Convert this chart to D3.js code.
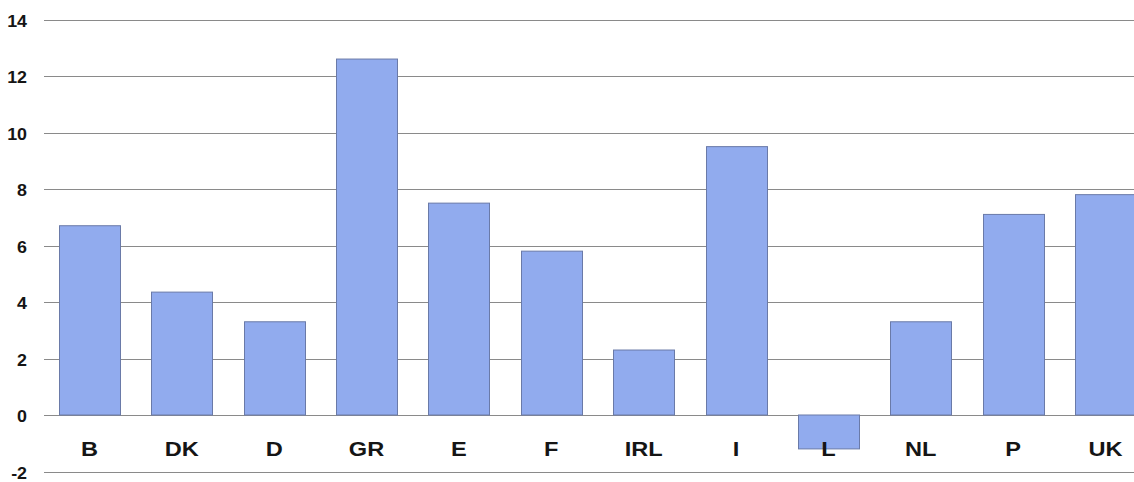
<!DOCTYPE html>
<html><head><meta charset="utf-8">
<script src="https://cdnjs.cloudflare.com/ajax/libs/d3/7.8.5/d3.min.js"></script>
<style>body{margin:0;background:#fff}svg{display:block}</style>
</head><body>
<svg id="c" width="1134" height="482"></svg>
<script>
const categories = ["B","DK","D","GR","E","F","IRL","I","L","NL","P","UK"];
const values = [6.7,4.35,3.3,12.6,7.5,5.8,2.3,9.5,-1.2,3.3,7.1,7.8];
const tickValues = [-2,0,2,4,6,8,10,12,14];

const svg = d3.select("#c");
const y = d3.scaleLinear().domain([-2,14]).range([471.5,19.5]);
const x = d3.scaleBand().domain(categories).range([43.3,1151.6]).paddingInner(0.34).paddingOuter(0.17);

// gridlines
svg.append("g").selectAll("line").data(tickValues).join("line")
  .attr("x1",44).attr("x2",1134)
  .attr("y1",d=>Math.round(y(d))+0.5).attr("y2",d=>Math.round(y(d))+0.5)
  .attr("stroke","#8a8a8a").attr("stroke-width",1.2);

// y axis labels
const yAxis = d3.axisLeft(y).tickValues(tickValues).tickSize(0).tickPadding(0).tickFormat(d=>String(d));
const ga = svg.append("g").attr("transform","translate(27,1.5)").call(yAxis);
ga.select(".domain").remove();
ga.selectAll("text").attr("font-family","Liberation Sans, Arial, sans-serif")
  .attr("font-weight","bold").attr("font-size",17).attr("fill","#151515")
  .attr("transform","scale(1.05,1)");

// bars
svg.append("g").selectAll("rect").data(values).join("rect")
  .attr("x",(d,i)=>Math.round(x(categories[i]))+0.5)
  .attr("width",Math.round(x.bandwidth()))
  .attr("y",d=>y(Math.max(0,d)))
  .attr("height",d=>Math.abs(y(d)-y(0)))
  .attr("fill","#91abee").attr("stroke","#6a7aa8").attr("stroke-width",1);

// category labels
const xAxis = d3.axisBottom(x).tickSize(0).tickPadding(0);
const gx = svg.append("g").attr("transform","translate(0,456)").call(xAxis);
gx.select(".domain").remove();
gx.selectAll("text").attr("y",0).attr("dy",0)
  .attr("font-family","Liberation Sans, Arial, sans-serif")
  .attr("font-weight","bold").attr("font-size",20).attr("fill","#151515")
  .attr("transform","scale(1.18,1)");
</script>
</body></html>
